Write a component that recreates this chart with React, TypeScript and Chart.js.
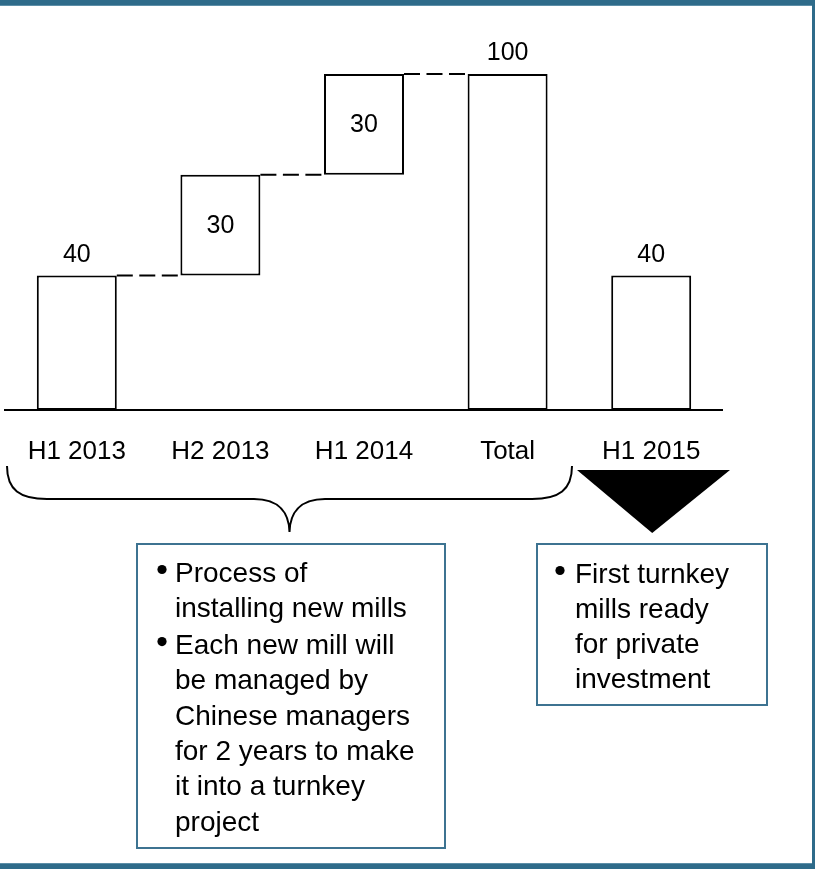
import React, { useEffect, useRef } from "react";
import { Chart, registerables } from "chart.js";

Chart.register(...registerables);

const categories = ["H1 2013", "H2 2013", "H1 2014", "Total", "H1 2015"];
const barStarts = [0, 40, 70, 0, 0];
const barEnds = [40, 70, 100, 100, 40];
const valueLabels = ["40", "30", "30", "100", "40"];
const labelInside = [false, true, true, false, false];
const connectorPairs = [
  [0, 1],
  [1, 2],
  [2, 3],
];
const leftBoxParagraphs = [
  ["Process of", "installing new mills"],
  ["Each new mill will", "be managed by", "Chinese managers", "for 2 years to make", "it into a turnkey", "project"],
];
const rightBoxParagraphs = [["First turnkey", "mills ready", "for private", "investment"]];

const FONT = '"Liberation Sans", Arial, sans-serif';
const TEAL = "#2e6b8a";
const BOX_TEAL = "#3d7391";

function drawParagraphs(
  ctx: CanvasRenderingContext2D,
  paras: string[][],
  bulletX: number,
  textX: number,
  firstBaseline: number,
  lineH: number,
  paraGap: number
) {
  ctx.font = `28px ${FONT}`;
  ctx.fillStyle = "#000";
  ctx.textAlign = "left";
  ctx.textBaseline = "alphabetic";
  let y = firstBaseline;
  paras.forEach((lines, pi) => {
    if (pi > 0) y += paraGap;
    ctx.beginPath();
    ctx.arc(bulletX, y - 12.5, 4.6, 0, Math.PI * 2);
    ctx.fill();
    lines.forEach((ln) => {
      ctx.fillText(ln, textX, y);
      y += lineH;
    });
  });
}

const overlayPlugin = {
  id: "overlay",
  beforeDraw(chart: any) {
    const ctx = chart.ctx as CanvasRenderingContext2D;
    ctx.save();
    ctx.fillStyle = "#fff";
    ctx.fillRect(0, 0, chart.width, chart.height);
    ctx.restore();
  },
  afterDatasetsDraw(chart: any) {
    const ctx = chart.ctx as CanvasRenderingContext2D;
    const xs = chart.scales.x;
    const ys = chart.scales.y;
    const meta = chart.getDatasetMeta(0);
    const area = chart.chartArea;
    ctx.save();

    // connectors (dashed)
    ctx.strokeStyle = "#000";
    ctx.lineWidth = 2;
    ctx.setLineDash([16, 6.5]);
    connectorPairs.forEach(([a, b]) => {
      const ba = meta.data[a];
      const bb = meta.data[b];
      const y = ys.getPixelForValue(barEnds[a]);
      ctx.beginPath();
      ctx.moveTo(ba.x + ba.width / 2, y);
      ctx.lineTo(bb.x - bb.width / 2, y);
      ctx.stroke();
    });
    ctx.setLineDash([]);

    // baseline
    const y0 = ys.getPixelForValue(0);
    ctx.beginPath();
    ctx.moveTo(area.left - 1, y0);
    ctx.lineTo(area.right, y0);
    ctx.stroke();

    // value labels
    ctx.fillStyle = "#000";
    ctx.font = `25px ${FONT}`;
    ctx.textAlign = "center";
    categories.forEach((_, i) => {
      const cx = xs.getPixelForValue(i);
      const top = ys.getPixelForValue(barEnds[i]);
      const bot = ys.getPixelForValue(barStarts[i]);
      if (labelInside[i]) {
        ctx.textBaseline = "middle";
        ctx.fillText(valueLabels[i], cx, (top + bot) / 2 + 1);
      } else {
        ctx.textBaseline = "alphabetic";
        ctx.fillText(valueLabels[i], cx, top - 14);
      }
    });

    // category labels
    ctx.font = `26px ${FONT}`;
    ctx.textBaseline = "alphabetic";
    categories.forEach((c, i) => {
      ctx.fillText(c, xs.getPixelForValue(i), y0 + 49);
    });

    // brace under first four categories
    ctx.lineWidth = 2;
    ctx.beginPath();
    ctx.moveTo(7, 466);
    ctx.bezierCurveTo(7, 490, 20, 499, 47, 499);
    ctx.lineTo(254, 499);
    ctx.bezierCurveTo(280, 499, 289, 514, 289.5, 532);
    ctx.bezierCurveTo(290, 514, 299, 499, 325, 499);
    ctx.lineTo(532, 499);
    ctx.bezierCurveTo(559, 499, 572, 490, 572, 466);
    ctx.stroke();

    // triangle under H1 2015
    const tx = xs.getPixelForValue(4);
    ctx.beginPath();
    ctx.moveTo(577, 470);
    ctx.lineTo(730, 470);
    ctx.lineTo(tx + 1, 533);
    ctx.closePath();
    ctx.fill();

    // boxes
    ctx.strokeStyle = BOX_TEAL;
    ctx.lineWidth = 2;
    ctx.strokeRect(137, 544, 308, 304);
    ctx.strokeRect(537, 544, 230, 161);

    drawParagraphs(ctx, leftBoxParagraphs, 162, 175, 582, 35.3, 1.5);
    drawParagraphs(ctx, rightBoxParagraphs, 560, 575, 583, 35, 0);

    // frame
    ctx.fillStyle = TEAL;
    ctx.fillRect(0, 0, chart.width, 6);
    ctx.fillRect(chart.width - 3, 0, 3, chart.height);
    ctx.fillRect(0, chart.height - 5, chart.width, 5);
    ctx.fillStyle = "#5d8fa8";
    ctx.fillRect(0, 5, chart.width - 3, 1);
    ctx.fillRect(0, chart.height - 6, chart.width - 3, 1);

    ctx.restore();
  },
};

export default function App() {
  const ref = useRef<HTMLCanvasElement | null>(null);
  useEffect(() => {
    document.body.style.margin = "0";
    if (!ref.current) return;
    const data = categories.map((_, i) => [barStarts[i], barEnds[i]]);
    const chart = new Chart(ref.current, {
      type: "bar",
      data: {
        labels: categories,
        datasets: [
          {
            data: data as any,
            backgroundColor: "#ffffff",
            borderColor: "#000000",
            borderWidth: 2,
            borderSkipped: false,
            barPercentage: 0.557,
            categoryPercentage: 1,
          },
        ],
      },
      options: {
        responsive: false,
        animation: false,
        devicePixelRatio: 1,
        layout: { padding: { left: 5, right: 92, top: 74, bottom: 459 } },
        plugins: { legend: { display: false }, tooltip: { enabled: false } },
        scales: {
          x: { display: false },
          y: { display: false, min: 0, max: 100 },
        },
      },
      plugins: [overlayPlugin],
    });
    return () => chart.destroy();
  }, []);
  return (
    <div style={{ width: 815, height: 869 }}>
      <canvas ref={ref} width={815} height={869} style={{ display: "block" }} />
    </div>
  );
}
